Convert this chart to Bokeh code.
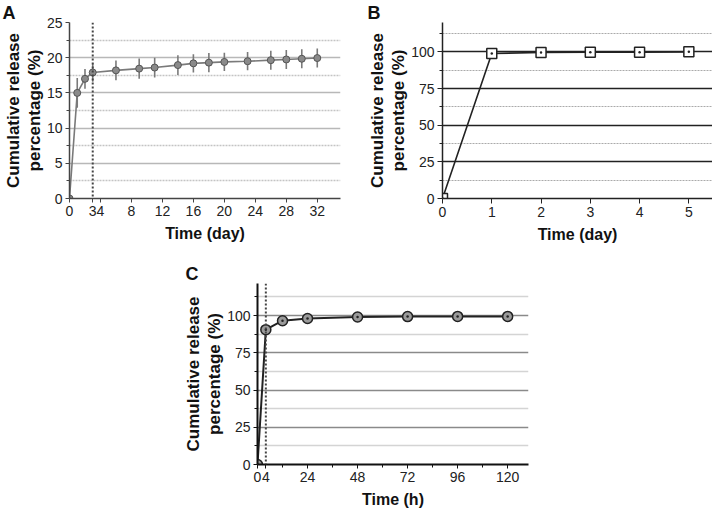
from bokeh.plotting import figure
from bokeh.models import Range1d, FixedTicker, Span, Spacer
from bokeh.layouts import row, column
from bokeh.embed import file_html
from bokeh.resources import INLINE

# ---------------- data ----------------
days_a = [0, 1, 2, 3, 6, 9, 11, 14, 16, 18, 20, 23, 26, 28, 30, 32]
release_a = [0, 15.0, 17.0, 17.9, 18.2, 18.45, 18.6, 18.95, 19.2, 19.3, 19.4, 19.5, 19.65, 19.75, 19.85, 19.95]
err_a = [0, 2.1, 1.4, 1.3, 1.4, 1.45, 1.4, 1.4, 1.3, 1.35, 1.3, 1.3, 1.35, 1.35, 1.35, 1.35]
xticks_a = [0, 3, 4, 8, 12, 16, 20, 24, 28, 32]
yticks_a = [0, 5, 10, 15, 20, 25]
yminor_a = [2.5, 7.5, 12.5, 17.5, 22.5]
burst_a = 3

days_b = [0, 1, 2, 3, 4, 5]
release_b = [0, 98.9, 99.5, 99.7, 99.8, 100]
xticks_b = [0, 1, 2, 3, 4, 5]
yticks_b = [0, 25, 50, 75, 100]
yminor_b = [12.5, 37.5, 62.5, 87.5, 112.5]

hours_c = [0, 4, 12, 24, 48, 72, 96, 120]
release_c = [0, 90.5, 96.5, 98.0, 99.0, 99.3, 99.4, 99.4]
xticks_c = [0, 4, 24, 48, 72, 96, 120]
xminor_c = [12, 36, 60, 84, 108]
yticks_c = [0, 25, 50, 75, 100]
yminor_c = [12.5, 37.5, 62.5, 87.5, 112.5]
burst_c = 4

FONT = "Liberation Sans"
YLABEL = "Cumulative release\npercentage (%)"


def base(width, height, xr, yr, bl, br, bt, bb, letter, letter_offset):
    p = figure(width=width, height=height, x_range=Range1d(*xr), y_range=Range1d(*yr),
               output_backend="svg", toolbar_location=None,
               min_border_left=bl, min_border_right=br, min_border_top=bt, min_border_bottom=bb)
    p.outline_line_color = None
    p.xgrid.visible = False
    p.background_fill_color = "white"
    p.border_fill_color = "white"
    p.title.text = letter
    p.title.align = "left"
    p.title.offset = letter_offset
    p.title.standoff = 0
    p.title.text_font = FONT
    p.title.text_font_style = "bold"
    p.title.text_font_size = "18px"
    p.title.text_color = "#111111"
    for ax in (p.xaxis[0], p.yaxis[0]):
        ax.major_label_text_font = FONT
        ax.major_label_text_font_size = "14px"
        ax.major_label_text_color = "#222222"
        ax.axis_label_text_font = FONT
        ax.axis_label_text_font_style = "bold"
        ax.axis_label_text_color = "#111111"
        ax.major_tick_in = 0
        ax.minor_tick_in = 0
        ax.major_tick_out = 4
        ax.minor_tick_out = 3
        ax.major_label_standoff = 3
    p.xaxis.axis_label_text_font_size = "16px"
    p.yaxis.axis_label_text_font_size = "17px"
    p.yaxis.axis_label_text_line_height = 1.1
    p.yaxis.axis_label_standoff = 0
    p.xaxis.axis_label_standoff = 6
    p.yaxis.major_label_orientation = "horizontal"
    return p


# ---------------- panel A ----------------
pa = base(360, 258, (0, 35), (0, 25), 69, 20, 20, 58, "A", -67)
pa.xaxis.ticker = FixedTicker(ticks=xticks_a, minor_ticks=[])
pa.yaxis.ticker = FixedTicker(ticks=yticks_a, minor_ticks=yminor_a)
pa.ygrid.ticker = FixedTicker(ticks=yticks_a, minor_ticks=yminor_a)
pa.ygrid.grid_line_color = "#b8b8b8"
pa.ygrid.grid_line_width = 1.5
pa.ygrid.minor_grid_line_color = "#c4c4c4"
pa.ygrid.minor_grid_line_width = 1.5
pa.ygrid.minor_grid_line_dash = "2 1"
for ax in (pa.xaxis[0], pa.yaxis[0]):
    ax.axis_line_color = "#444444"
    ax.axis_line_width = 1.5
    ax.major_tick_line_color = "#444444"
    ax.minor_tick_line_color = "#444444"
pa.xaxis.axis_label = "Time (day)"
pa.yaxis.axis_label = YLABEL
pa.add_layout(Span(location=burst_a, dimension="height", line_color="#444444",
                   line_dash="2 2", line_width=2))
lo_a = [v - e for v, e in zip(release_a, err_a)]
hi_a = [v + e for v, e in zip(release_a, err_a)]
pa.segment(x0=days_a, y0=lo_a, x1=days_a, y1=hi_a, line_color="#7a7a7a", line_width=1.6)
pa.line(days_a, release_a, line_color="#7a7a7a", line_width=1.6)
pa.scatter(days_a, release_a, size=7, marker="circle", fill_color="#8a8a8a", line_color="#555555")

# ---------------- panel B ----------------
pb = base(352, 258, (0, 5.48), (0, 120), 82, 0, 19, 60, "B", -75)
pb.xaxis.ticker = FixedTicker(ticks=xticks_b, minor_ticks=[])
pb.yaxis.ticker = FixedTicker(ticks=yticks_b, minor_ticks=yminor_b)
pb.ygrid.ticker = FixedTicker(ticks=yticks_b, minor_ticks=yminor_b)
pb.ygrid.grid_line_color = "#222222"
pb.ygrid.grid_line_width = 1.5
pb.ygrid.minor_grid_line_color = "#aaaaaa"
pb.ygrid.minor_grid_line_width = 1
pb.ygrid.minor_grid_line_dash = "2 1"
for ax in (pb.xaxis[0], pb.yaxis[0]):
    ax.axis_line_color = "#222222"
    ax.axis_line_width = 1.5
    ax.major_tick_line_color = "#222222"
    ax.minor_tick_line_color = "#222222"
    ax.major_tick_out = 5
pb.xaxis.axis_label = "Time (day)"
pb.yaxis.axis_label = YLABEL
pb.line(days_b, release_b, line_color="#222222", line_width=1.6)
pb.scatter(days_b, release_b, size=10, marker="square_dot", fill_color="white",
           line_color="#222222", line_width=1.5)

# ---------------- panel C ----------------
pc = base(360, 252, (0, 130), (0, 121.5), 77, 12, 25, 45, "C", -72)
pc.xaxis.ticker = FixedTicker(ticks=xticks_c, minor_ticks=xminor_c)
pc.yaxis.ticker = FixedTicker(ticks=yticks_c, minor_ticks=yminor_c)
pc.ygrid.ticker = FixedTicker(ticks=yticks_c, minor_ticks=yminor_c)
pc.ygrid.grid_line_color = "#8a8a8a"
pc.ygrid.grid_line_width = 1.5
pc.ygrid.minor_grid_line_color = "#d4d4d4"
pc.ygrid.minor_grid_line_width = 1.5
for ax in (pc.xaxis[0], pc.yaxis[0]):
    ax.axis_line_color = "#111111"
    ax.axis_line_width = 2
    ax.major_tick_line_color = "#111111"
    ax.minor_tick_line_color = "#111111"
pc.xaxis.axis_label = "Time (h)"
pc.yaxis.axis_label = YLABEL
pc.add_layout(Span(location=burst_c, dimension="height", line_color="#444444",
                   line_dash="2 2", line_width=2))
pc.line(hours_c, release_c, line_color="#222222", line_width=2)
pc.scatter(hours_c, release_c, size=10, marker="circle_dot", fill_color="#9a9a9a",
           line_color="#222222", line_width=1.5)

layout = column(row(pa, pb), row(Spacer(width=180, height=252), pc))

open("out.html", "w").write(file_html(layout, INLINE))
